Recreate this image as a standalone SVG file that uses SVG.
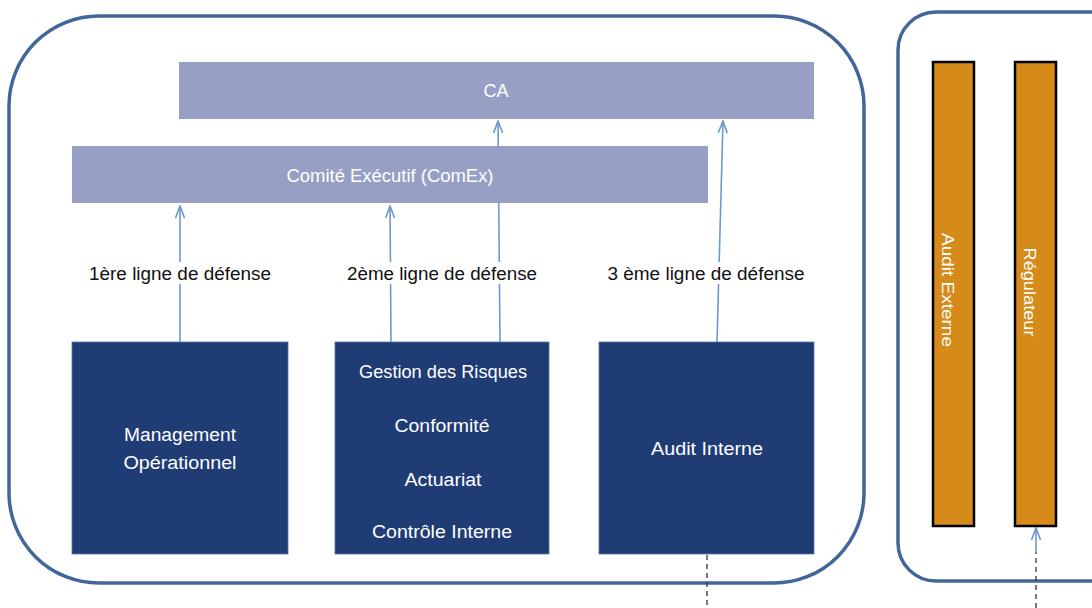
<svg xmlns="http://www.w3.org/2000/svg" width="1092" height="608" viewBox="0 0 1092 608">
<defs>
<style>
.frame{fill:#fff;stroke:#41679A;stroke-width:3.5}
.lav{fill:#979FC4}
.dark{fill:#1F3C74;stroke:#5A74A6;stroke-width:0.8}
.orange{fill:#D68A19;stroke:#000;stroke-width:2.5}
.wt{font-family:"Liberation Sans",Arial,sans-serif;font-size:18px;fill:#fff;text-anchor:middle}
.vt{font-family:"Liberation Sans",Arial,sans-serif;font-size:16px;fill:#fff;text-anchor:middle}
.bt{font-family:"Liberation Sans",Arial,sans-serif;font-size:18px;fill:#111;text-anchor:middle}
.conn{stroke:#6E97CF;stroke-width:1.6;fill:none}
.dash{stroke:#333;stroke-width:1.3;stroke-dasharray:5 4;fill:none}
</style>
<marker id="arr" viewBox="0 0 14 10" refX="13" refY="5" markerWidth="14" markerHeight="10" markerUnits="userSpaceOnUse" orient="auto">
<path d="M1,0.5 L13,5 L1,9.5" fill="none" stroke="#6E97CF" stroke-width="1.6"/>
</marker>
</defs>

<g id="frame-main"><rect class="frame" x="9" y="16" width="855" height="567" rx="90" ry="90"/></g>
<g id="frame-external"><rect class="frame" x="898" y="12" width="230" height="569" rx="38" ry="38"/></g>

<g id="connectors">
<path class="conn" d="M180,342 L180,206" marker-end="url(#arr)"/>
<path class="conn" d="M391,342 L390,206" marker-end="url(#arr)"/>
<path class="conn" d="M500,342 L498,121" marker-end="url(#arr)"/>
<path class="conn" d="M717,342 L723,121" marker-end="url(#arr)"/>
<path class="dash" d="M707,555 L707,608"/>
<path class="dash" d="M1036,608 L1036,552"/>
<path class="conn" d="M1036,553 L1036,528" marker-end="url(#arr)"/>
</g>

<g id="ca"><rect class="lav" x="179" y="62" width="635" height="57"/><text class="wt" x="496" y="97">CA</text></g>
<g id="comex"><rect class="lav" x="72" y="146" width="636" height="57"/><text class="wt" x="390" y="182" textLength="207" lengthAdjust="spacingAndGlyphs">Comité Exécutif (ComEx)</text></g>

<g id="label1"><rect x="86" y="262" width="188" height="22" fill="#fff"/><text class="bt" x="180" y="280" textLength="182" lengthAdjust="spacingAndGlyphs">1ère ligne de défense</text></g>
<g id="label2"><rect x="344" y="262" width="196" height="22" fill="#fff"/><text class="bt" x="442" y="280" textLength="190" lengthAdjust="spacingAndGlyphs">2ème ligne de défense</text></g>
<g id="label3"><rect x="605" y="262" width="203" height="22" fill="#fff"/><text class="bt" x="706" y="280" textLength="197" lengthAdjust="spacingAndGlyphs">3 ème ligne de défense</text></g>

<g id="management"><rect class="dark" x="72" y="342" width="216" height="212"/>
<text class="wt" x="180" y="441" textLength="112" lengthAdjust="spacingAndGlyphs">Management</text>
<text class="wt" x="180" y="469" textLength="113" lengthAdjust="spacingAndGlyphs">Opérationnel</text></g>

<g id="second-line"><rect class="dark" x="335" y="342" width="214" height="212"/>
<text class="wt" x="443" y="378" textLength="168" lengthAdjust="spacingAndGlyphs">Gestion des Risques</text>
<text class="wt" x="442" y="432" textLength="95" lengthAdjust="spacingAndGlyphs">Conformité</text>
<text class="wt" x="443" y="486" textLength="77" lengthAdjust="spacingAndGlyphs">Actuariat</text>
<text class="wt" x="442" y="538" textLength="140" lengthAdjust="spacingAndGlyphs">Contrôle Interne</text></g>

<g id="audit-interne"><rect class="dark" x="599" y="342" width="215" height="212"/>
<text class="wt" x="707" y="455" textLength="112" lengthAdjust="spacingAndGlyphs">Audit Interne</text></g>

<g id="audit-externe"><rect class="orange" x="933" y="62" width="41" height="464"/>
<text class="vt" transform="translate(942,290) rotate(90)" x="0" y="0" textLength="114" lengthAdjust="spacingAndGlyphs">Audit Externe</text></g>

<g id="regulateur"><rect class="orange" x="1015" y="62" width="41" height="464"/>
<text class="vt" transform="translate(1024,292) rotate(90)" x="0" y="0" textLength="89" lengthAdjust="spacingAndGlyphs">Régulateur</text></g>
</svg>
